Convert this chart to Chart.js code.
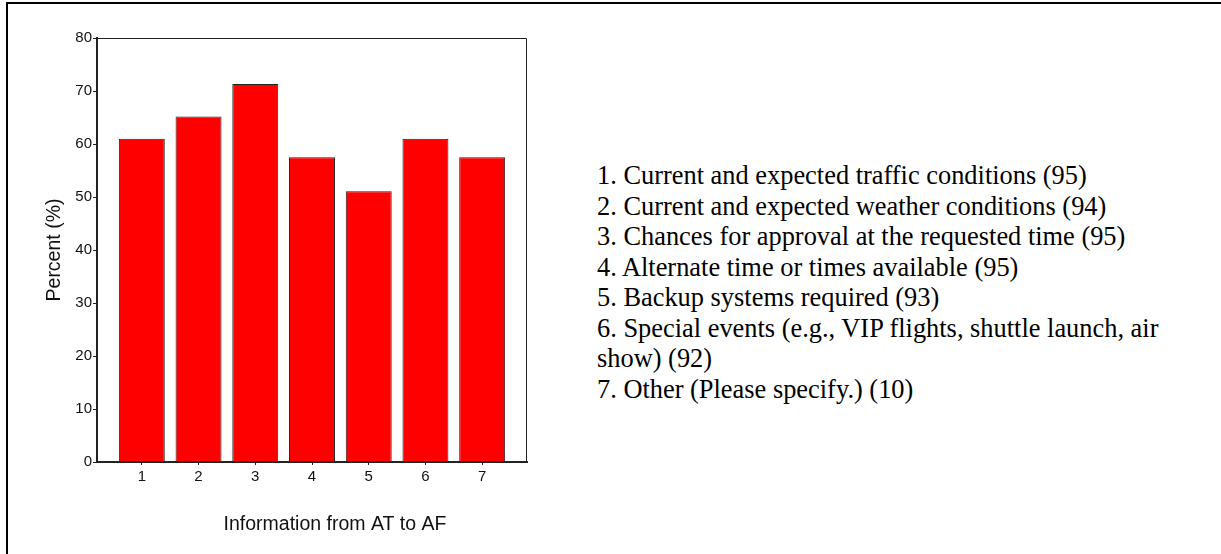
<!DOCTYPE html>
<html>
<head>
<meta charset="utf-8">
<script src="https://cdn.jsdelivr.net/npm/chart.js@4"></script>
<style>
  html, body { margin: 0; padding: 0; background: #fff; }
  body { width: 1221px; height: 554px; position: relative; overflow: hidden; }
  #frame { position: absolute; left: 6px; top: 2px; width: 1240px; height: 580px; box-sizing: border-box;
    border-left: 2px solid #000; border-top: 2px solid #000; }
  #chart-box { position: absolute; left: 0; top: 0; width: 560px; height: 554px; }
  #legend { position: absolute; left: 597px; top: 160px; width: 600px;
    font-family: "Liberation Serif", "Times New Roman", serif; font-size: 26.4px; line-height: 30.5px; color: #000; }
</style>
</head>
<body>
<div id="frame"></div>
<div id="chart-box"><canvas id="bars"></canvas></div>
<div id="legend"></div>
<script>
const categories = [1, 2, 3, 4, 5, 6, 7];
const percents = [61.0, 65.2, 71.3, 57.5, 51.1, 61.0, 57.5];
const yTicks = [0, 10, 20, 30, 40, 50, 60, 70, 80];
const xTitle = 'Information from AT to AF';
const yTitle = 'Percent (%)';
const itemLabels = [
  'Current and expected traffic conditions (95)',
  'Current and expected weather conditions (94)',
  'Chances for approval at the requested time (95)',
  'Alternate time or times available (95)',
  'Backup systems required (93)',
  'Special events (e.g., VIP flights, shuttle launch, air show) (92)',
  'Other (Please specify.) (10)'
];

document.getElementById('legend').innerHTML =
  itemLabels.map((t, i) => '<div>' + categories[i] + '. ' + t + '</div>').join('');

const family = '"Liberation Sans", Arial, sans-serif';

// thin box round the plot area (top and right sides) + x axis title
const plotBox = {
  id: 'plotBox',
  afterDraw(chart) {
    const { ctx, chartArea: a } = chart;
    ctx.save();
    ctx.strokeStyle = '#222';
    ctx.lineWidth = 1;
    ctx.beginPath();
    ctx.moveTo(a.left, a.top + 0.5);
    ctx.lineTo(a.right - 0.5, a.top + 0.5);
    ctx.lineTo(a.right - 0.5, a.bottom);
    ctx.stroke();

    ctx.fillStyle = '#111';
    ctx.font = '19.5px ' + family;
    ctx.textAlign = 'center';
    ctx.textBaseline = 'middle';
    ctx.fillText(xTitle, (a.left + a.right) / 2 + 23, a.bottom + 63);
    ctx.restore();
  }
};

new Chart(document.getElementById('bars'), {
  type: 'bar',
  data: {
    datasets: [{
      data: categories.map((c, i) => ({ x: c, y: percents[i] })),
      backgroundColor: '#ff0000',
      borderColor: '#222',
      borderWidth: 1,
      barPercentage: 0.81,
      categoryPercentage: 1
    }]
  },
  options: {
    responsive: true,
    maintainAspectRatio: false,
    animation: false,
    layout: { padding: { left: 0, top: 38, right: 33, bottom: 0 } },
    plugins: { legend: { display: false }, tooltip: { enabled: false } },
    scales: {
      x: {
        type: 'linear',
        offset: false,
        min: 0.21,
        max: 7.79,
        afterBuildTicks: s => { s.ticks = categories.map(v => ({ value: v })); },
        afterFit: s => { s.height = 92; },
        grid: { drawOnChartArea: false, offset: false, tickLength: 3, color: '#222' },
        border: { color: '#222', width: 2 },
        ticks: { font: { family, size: 15 }, color: '#111', padding: 3 }
      },
      y: {
        min: 0,
        max: 80,
        afterBuildTicks: s => { s.ticks = yTicks.map(v => ({ value: v })); },
        afterFit: s => { s.width = 97; },
        grid: { drawOnChartArea: false, tickLength: 4, color: '#222' },
        border: { color: '#222', width: 2 },
        ticks: { font: { family, size: 15 }, color: '#111', padding: 1 },
        title: { display: true, text: yTitle, color: '#111',
          font: { family, size: 19.5 }, padding: { top: 43, bottom: 0 } }
      }
    }
  },
  plugins: [plotBox]
});
</script>
</body>
</html>
